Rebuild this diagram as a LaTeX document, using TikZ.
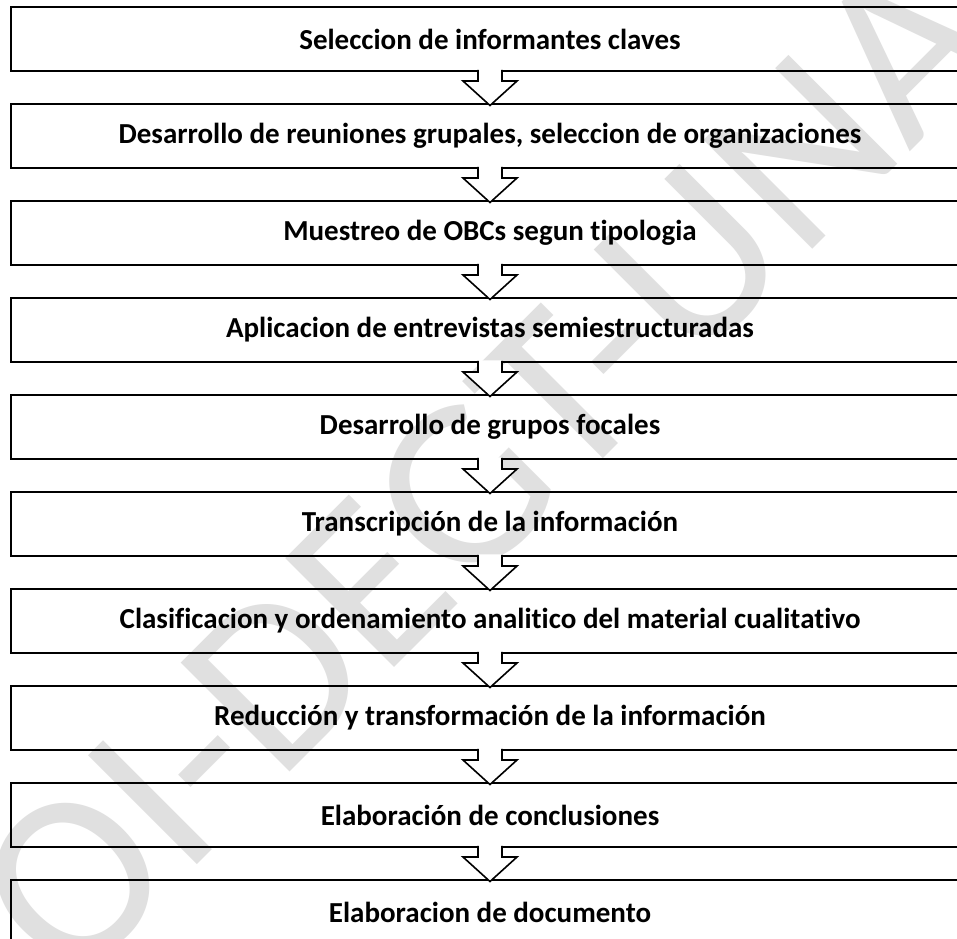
\documentclass[tikz,border=0pt]{standalone}
\usepackage{fontspec}
\setmainfont[Ligatures=NoCommon]{Carlito}
\usetikzlibrary{calc}
\tikzset{
  stepbox/.style={draw=black, line width=2.2pt, outer sep=0pt, inner sep=0pt,
    minimum width=958pt, minimum height=64pt, anchor=north west,
    font=\bfseries\fontsize{29}{34}\selectfont},
  arrowline/.style={draw=black, line width=1.6pt, line join=miter},
  wmark/.style={text=black!12, font=\fontsize{240}{240}\selectfont, rotate=45, inner sep=0pt}
}
\begin{document}
\begin{tikzpicture}[x=1pt,y=-1pt]
\useasboundingbox (0,0) rectangle (957,938);
\clip (0,0) rectangle (957,938);
\fill[white] (0,0) rectangle (957,938);
\node[wmark] (wm) at (485,468) {OI-DEGT-UNA};
\foreach \i/\t in {0/{Seleccion de informantes claves},
  1/{Desarrollo de reuniones grupales, seleccion de organizaciones},
  2/{Muestreo de OBCs segun tipologia},
  3/{Aplicacion de entrevistas semiestructuradas},
  4/{Desarrollo de grupos focales},
  5/{Transcripción de la información},
  6/{Clasificacion y ordenamiento analitico del material cualitativo},
  7/{Reducción y transformación de la información},
  8/{Elaboración de conclusiones},
  9/{Elaboracion de documento}}{
  \node[stepbox] (b\i) at (11,{7+97*\i}) {\t};
}
\foreach \i in {0,...,8}{
  \pgfmathtruncatemacro{\j}{\i+1}
  \fill[white] ($(b\i.south)+(-12,-1.6)$) -- ($(b\i.south)+(-12,10)$) -- ($(b\i.south)+(-27,10)$)
     -- ($(b\j.north)+(0,1.5)$) -- ($(b\i.south)+(27,10)$) -- ($(b\i.south)+(12,10)$)
     -- ($(b\i.south)+(12,-1.6)$) -- cycle;
  \draw[arrowline] ($(b\i.south)+(-12,-1.1)$) -- ($(b\i.south)+(-12,10)$) -- ($(b\i.south)+(-27,10)$)
     -- ($(b\j.north)+(0,1.5)$) -- ($(b\i.south)+(27,10)$) -- ($(b\i.south)+(12,10)$)
     -- ($(b\i.south)+(12,-1.1)$);
}
\end{tikzpicture}
\end{document}
